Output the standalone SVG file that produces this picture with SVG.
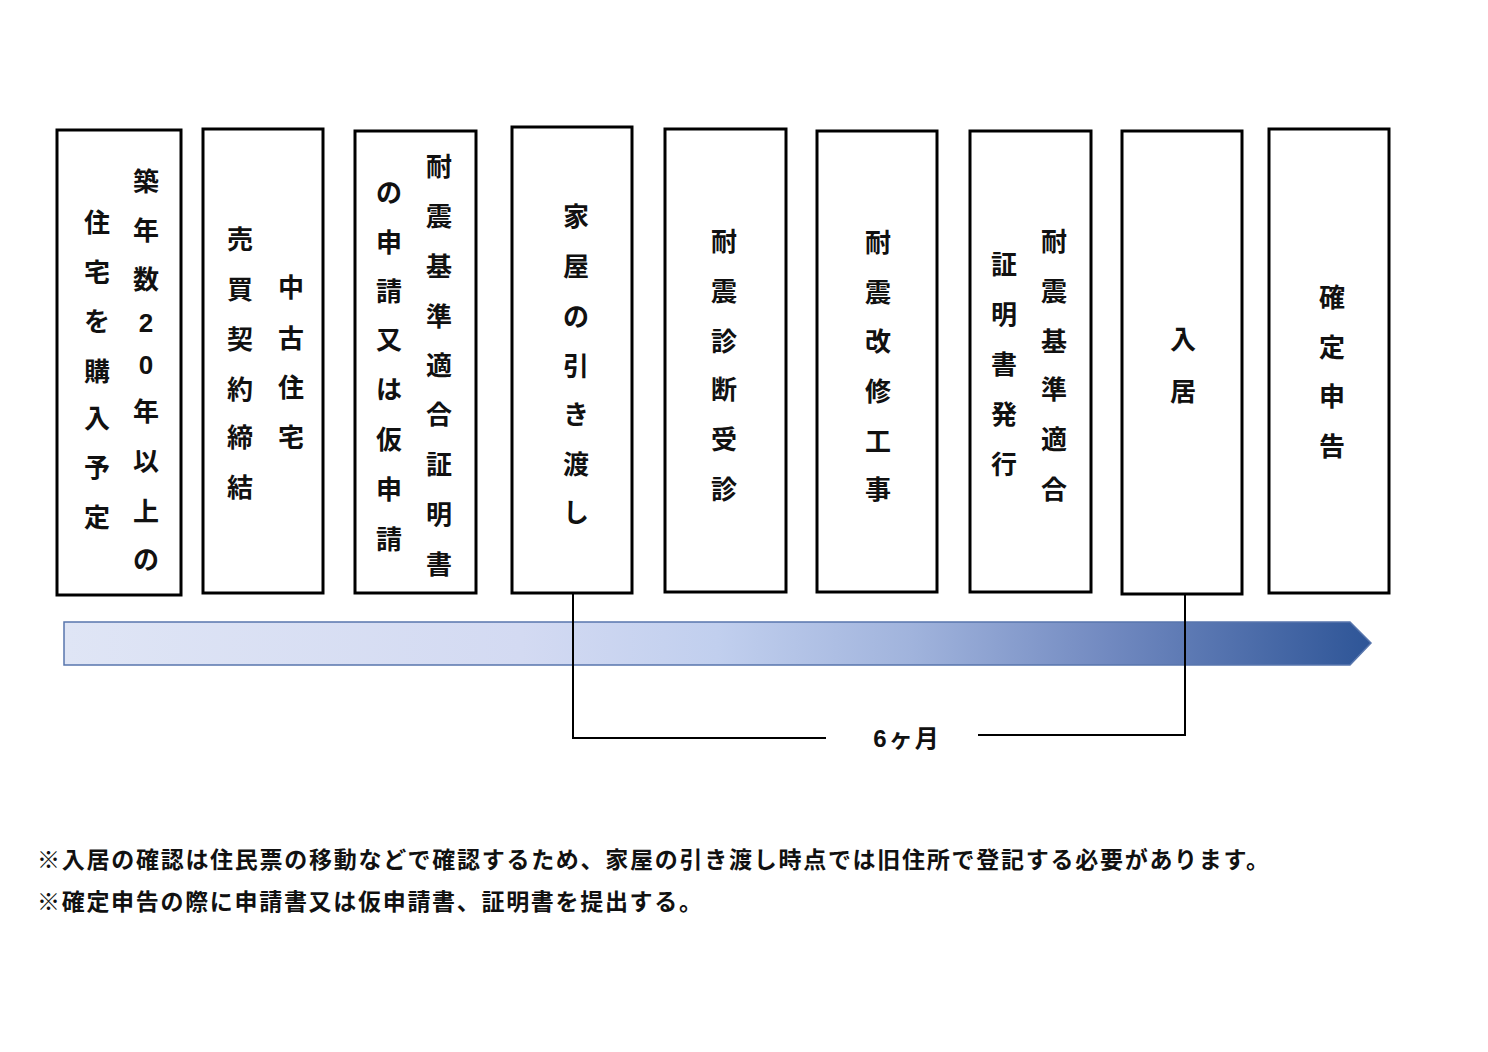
<svg xmlns="http://www.w3.org/2000/svg" width="1488" height="1052" viewBox="0 0 1488 1052">
<style>
.box{fill:#ffffff;stroke:#000000;stroke-width:3}
.v{font-family:"Liberation Sans","Noto Sans CJK JP",sans-serif;font-size:26px;font-weight:700;fill:#111;text-anchor:middle;dominant-baseline:central}
.conn{fill:none;stroke:#000;stroke-width:2}
.lbl{font-family:"Liberation Sans","Noto Sans CJK JP",sans-serif;font-size:24px;font-weight:700;fill:#111;text-anchor:middle;dominant-baseline:central;letter-spacing:2px}
.note{font-family:"Noto Sans CJK JP",sans-serif;font-size:23px;font-weight:700;fill:#111;dominant-baseline:central}
</style>
<defs>
<linearGradient id="tl" x1="0" y1="0" x2="1" y2="0">
<stop offset="0" stop-color="#dfe5f5"/>
<stop offset="0.35" stop-color="#d3daf2"/>
<stop offset="0.5" stop-color="#c1cfee"/>
<stop offset="0.65" stop-color="#a0b3dc"/>
<stop offset="0.8" stop-color="#7189c0"/>
<stop offset="1" stop-color="#2e5597"/>
</linearGradient>
</defs>
<rect width="1488" height="1052" fill="#ffffff"/>

<g id="timeline">
<polygon points="64,622 1350,622 1371,643 1350,665 64,665" fill="url(#tl)" stroke="#5876ad" stroke-width="1.5"/>
</g>

<g id="connectors">
<path class="conn" d="M573 593 V738 H826"/>
<path class="conn" d="M978 735 H1185 V594"/>
</g>

<g id="n1">
<rect class="box" x="57" y="130" width="124" height="465"/>
<text class="v"><tspan x="146" y="182">築</tspan><tspan x="146" y="231">年</tspan><tspan x="146" y="280">数</tspan><tspan x="146" y="323">2</tspan><tspan x="146" y="365">0</tspan><tspan x="146" y="412">年</tspan><tspan x="146" y="462">以</tspan><tspan x="146" y="512">上</tspan><tspan x="146" y="560">の</tspan></text>
<text class="v"><tspan x="97" y="223">住</tspan><tspan x="97" y="273">宅</tspan><tspan x="97" y="322">を</tspan><tspan x="97" y="372">購</tspan><tspan x="97" y="419">入</tspan><tspan x="97" y="468">予</tspan><tspan x="97" y="518">定</tspan></text>
</g>

<g id="n2">
<rect class="box" x="203" y="129" width="120" height="464"/>
<text class="v"><tspan x="291" y="288">中</tspan><tspan x="291" y="339">古</tspan><tspan x="291" y="388">住</tspan><tspan x="291" y="438">宅</tspan></text>
<text class="v"><tspan x="240" y="240">売</tspan><tspan x="240" y="290">買</tspan><tspan x="240" y="340">契</tspan><tspan x="240" y="390">約</tspan><tspan x="240" y="438">締</tspan><tspan x="240" y="488">結</tspan></text>
</g>

<g id="n3">
<rect class="box" x="355" y="131" width="121" height="462"/>
<text class="v"><tspan x="439" y="167">耐</tspan><tspan x="439" y="217">震</tspan><tspan x="439" y="267">基</tspan><tspan x="439" y="317">準</tspan><tspan x="439" y="366">適</tspan><tspan x="439" y="415">合</tspan><tspan x="439" y="465">証</tspan><tspan x="439" y="515">明</tspan><tspan x="439" y="565">書</tspan></text>
<text class="v"><tspan x="389" y="193">の</tspan><tspan x="389" y="243">申</tspan><tspan x="389" y="292">請</tspan><tspan x="389" y="340">又</tspan><tspan x="389" y="390">は</tspan><tspan x="389" y="440">仮</tspan><tspan x="389" y="490">申</tspan><tspan x="389" y="540">請</tspan></text>
</g>

<g id="n4">
<rect class="box" x="512" y="127" width="120" height="466"/>
<text class="v"><tspan x="576" y="217">家</tspan><tspan x="576" y="267">屋</tspan><tspan x="576" y="317">の</tspan><tspan x="576" y="367">引</tspan><tspan x="576" y="415">き</tspan><tspan x="576" y="465">渡</tspan><tspan x="576" y="513">し</tspan></text>
</g>

<g id="n5">
<rect class="box" x="665" y="129" width="121" height="463"/>
<text class="v"><tspan x="724" y="242">耐</tspan><tspan x="724" y="292">震</tspan><tspan x="724" y="342">診</tspan><tspan x="724" y="390">断</tspan><tspan x="724" y="440">受</tspan><tspan x="724" y="490">診</tspan></text>
</g>

<g id="n6">
<rect class="box" x="817" y="131" width="120" height="461"/>
<text class="v"><tspan x="878" y="243">耐</tspan><tspan x="878" y="293">震</tspan><tspan x="878" y="342">改</tspan><tspan x="878" y="392">修</tspan><tspan x="878" y="442">工</tspan><tspan x="878" y="490">事</tspan></text>
</g>

<g id="n7">
<rect class="box" x="970" y="131" width="121" height="461"/>
<text class="v"><tspan x="1054" y="242">耐</tspan><tspan x="1054" y="292">震</tspan><tspan x="1054" y="342">基</tspan><tspan x="1054" y="390">準</tspan><tspan x="1054" y="440">適</tspan><tspan x="1054" y="490">合</tspan></text>
<text class="v"><tspan x="1004" y="265">証</tspan><tspan x="1004" y="315">明</tspan><tspan x="1004" y="365">書</tspan><tspan x="1004" y="415">発</tspan><tspan x="1004" y="465">行</tspan></text>
</g>

<g id="n8">
<rect class="box" x="1122" y="131" width="120" height="463"/>
<text class="v"><tspan x="1183" y="340">入</tspan><tspan x="1183" y="392">居</tspan></text>
</g>

<g id="n9">
<rect class="box" x="1269" y="129" width="120" height="464"/>
<text class="v"><tspan x="1332" y="298">確</tspan><tspan x="1332" y="348">定</tspan><tspan x="1332" y="397">申</tspan><tspan x="1332" y="447">告</tspan></text>
</g>

<g id="label-6m">
<text class="lbl" x="907" y="738">6ヶ月</text>
</g>

<g id="notes">
<text class="note" x="37" y="858" textLength="1232">※入居の確認は住民票の移動などで確認するため、家屋の引き渡し時点では旧住所で登記する必要があります。</text>
<text class="note" x="37" y="900" textLength="665">※確定申告の際に申請書又は仮申請書、証明書を提出する。</text>
</g>
</svg>
